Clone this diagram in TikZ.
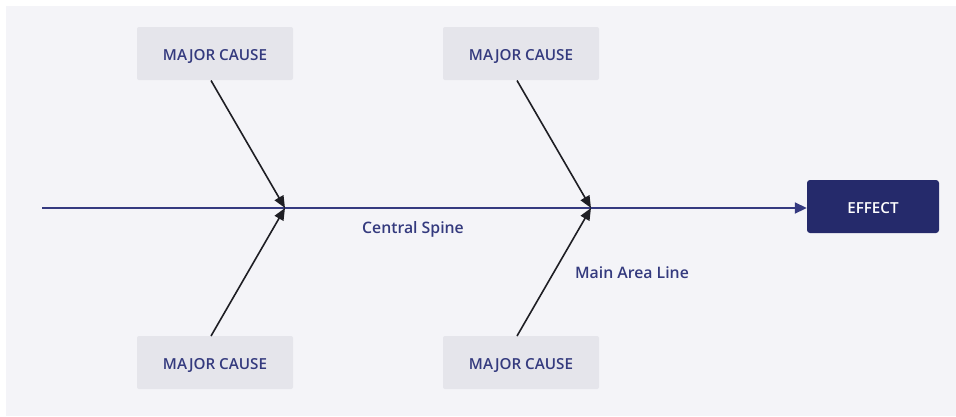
\documentclass[tikz,border=0pt]{standalone}
\usepackage{fontspec}
\setmainfont{Open Sans}
\newfontfamily\semibold{Open Sans Semibold}
\usetikzlibrary{arrows.meta}
\definecolor{canvas}{HTML}{F4F4F8}
\definecolor{causefill}{HTML}{E5E5EB}
\definecolor{navytext}{HTML}{343A7E}
\definecolor{spinecol}{HTML}{353A80}
\definecolor{effectfill}{HTML}{252A6B}
\definecolor{bonecol}{HTML}{1E1E24}
\tikzset{
  x=1pt, y=-1pt,
  capsbox/.style={text height=13pt, text depth=0pt, inner sep=0pt,
    font=\semibold\fontsize{15.2}{17}\selectfont},
  causebox/.style={capsbox, fill=causefill, rounded corners=2pt, minimum width=156pt,
    minimum height=53pt, text=navytext},
  effectbox/.style={capsbox, fill=effectfill, rounded corners=3pt, minimum width=132pt,
    minimum height=53pt, text=white},
  bone/.style={draw=bonecol, line width=1.6pt, -{Triangle[length=12pt,width=10pt]}},
  spine/.style={draw=spinecol, line width=1.8pt, -{Triangle[length=12pt,width=11pt]}},
  caption/.style={text=navytext, font=\semibold\fontsize{15.8}{17}\selectfont, inner sep=0pt},
}
\begin{document}
\begin{tikzpicture}
  \useasboundingbox (0,0) rectangle (956,416);
  \fill[white] (0,0) rectangle (956,416);
  \fill[canvas] (6,6) rectangle (956,416);

  % cause boxes
  \node[causebox] (c1) at (215,53.5) {MAJOR CAUSE};
  \node[causebox] (c2) at (521,53.5) {MAJOR CAUSE};
  \node[causebox] (c3) at (215,362.5) {MAJOR CAUSE};
  \node[causebox] (c4) at (521,362.5) {MAJOR CAUSE};

  % effect box
  \node[effectbox] (eff) at (873,206.5) {EFFECT};

  % spine
  \coordinate (tail) at (42,208);
  \coordinate (j1) at (285,208);
  \coordinate (j2) at (591,208);
  \draw[spine] (tail) -- (tail -| eff.west);

  % bones
  \draw[bone] (211,80.5) -- (j1);
  \draw[bone] (211,336) -- (j1);
  \draw[bone] (517,80.5) -- (j2);
  \draw[bone] (517,336) -- (j2);

  % labels
  \node[caption] (lspine) at (413,229) {Central Spine};
  \node[caption] (lmain) at (632,273) {Main Area Line};
\end{tikzpicture}
\end{document}
